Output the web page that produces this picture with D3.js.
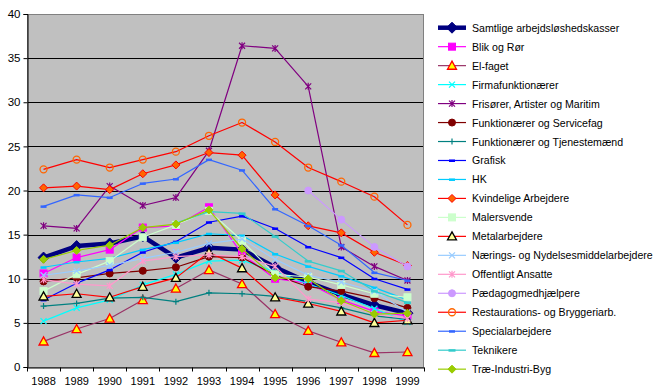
<!DOCTYPE html>
<html><head><meta charset="utf-8">
<script src="https://cdn.jsdelivr.net/npm/d3@7"></script>
<style>
html,body{margin:0;padding:0;background:#fff;}
svg{display:block;font-family:"Liberation Sans",Arial,sans-serif;}
</style></head>
<body><svg id="c" width="658" height="390"></svg>
<script>
const years = ["1988","1989","1990","1991","1992","1993","1994","1995","1996","1997","1998","1999"];
const yTicks = [0,5,10,15,20,25,30,35,40];
const seriesNames = ["Samtlige arbejdsløshedskasser","Blik og Rør","El-faget","Firmafunktionærer","Frisører, Artister og Maritim","Funktionærer og Servicefag","Funktionærer og Tjenestemænd","Grafisk","HK","Kvindelige Arbejdere","Malersvende","Metalarbejdere","Nærings- og Nydelsesmiddelarbejdere","Offentligt Ansatte","Pædagogmedhjælpere","Restaurations- og Bryggeriarb.","Specialarbejdere","Teknikere","Træ-Industri-Byg"];

const samtlige = [12.4,13.7,14.0,14.8,12.4,13.5,13.3,11.3,9.6,8.2,7.0,6.1];
const blikOgRor = [10.6,12.4,13.3,15.8,16.0,18.1,12.8,10.0,9.5,7.6,6.3,5.8];
const elFaget = [2.9,4.3,5.5,7.6,8.9,11.0,9.4,6.0,4.1,2.8,1.6,1.7];
const firmafunktionaerer = [5.2,6.7,7.6,9.3,10.5,12.0,12.1,10.8,9.4,8.1,6.6,5.1];
const frisorer = [16.0,15.7,20.5,18.3,19.2,24.5,36.4,36.1,31.8,13.6,11.4,9.8];
const funkService = [9.7,10.1,10.6,10.9,11.3,12.5,12.4,10.4,9.1,8.6,7.8,6.7];
const funkTjenestemaend = [6.9,7.2,7.8,7.9,7.4,8.4,8.3,8.0,7.4,6.7,5.8,5.4];
const grafisk = [7.6,9.5,11.0,13.0,14.2,16.4,17.1,15.7,13.6,12.4,10.0,8.8];
const hk = [11.3,11.9,12.3,13.3,14.1,15.1,14.9,12.8,11.4,10.3,9.0,7.6];
const kvindelige = [20.3,20.5,20.1,21.9,22.9,24.3,24.0,19.5,16.0,15.2,13.0,11.5];
const malersvende = [8.6,10.5,12.0,14.7,16.1,17.7,14.3,10.5,10.2,9.3,8.3,7.9];
const metal = [8.0,8.3,7.9,9.1,10.1,13.0,11.2,7.9,7.2,6.3,5.0,5.3];
const naerings = [10.4,10.9,11.5,12.3,13.0,14.0,14.5,12.2,10.4,9.6,8.6,6.2];
const offentligt = [9.9,9.4,9.2,12.0,12.5,12.7,12.5,11.4,7.7,7.3,6.0,5.5];
const paedagog = [null,null,null,null,null,null,null,null,20.0,16.7,13.6,11.4];
const restaurations = [22.4,23.5,22.6,23.5,24.4,26.2,27.7,25.5,22.6,21.0,19.3,16.1];
const special = [18.2,19.5,19.2,20.8,21.3,23.5,22.3,17.9,16.0,13.8,10.7,9.8];
const teknikere = [null,null,null,null,16.3,17.6,17.4,14.8,12.0,10.9,8.6,7.3];
const trae = [12.2,13.2,13.8,15.8,16.2,17.8,13.4,10.1,10.0,7.5,6.0,6.1];

const values = [samtlige,blikOgRor,elFaget,firmafunktionaerer,frisorer,funkService,funkTjenestemaend,grafisk,hk,kvindelige,malersvende,metal,naerings,offentligt,paedagog,restaurations,special,teknikere,trae];

const styles = [
 {c:"#000080",w:4.5,m:"diamond",f:"#000080",s:"#000080",r:5.5},
 {c:"#FF00FF",w:1.2,m:"square",f:"#FF00FF",s:"#FF00FF",r:3.5},
 {c:"#993366",w:1.2,m:"triangle",f:"#FFFF00",s:"#FF0000",r:4.5},
 {c:"#00FFFF",w:1.2,m:"x",f:"none",s:"#00FFFF",r:3},
 {c:"#800080",w:1.2,m:"star",f:"none",s:"#800080",r:3},
 {c:"#800000",w:1.2,m:"circle",f:"#800000",s:"#800000",r:3.5},
 {c:"#008080",w:1.2,m:"plus",f:"none",s:"#008080",r:3},
 {c:"#0000FF",w:1.2,m:"dash",f:"#0000FF",s:"#0000FF",r:3},
 {c:"#00CCFF",w:1.2,m:"dash",f:"#00CCFF",s:"#00CCFF",r:3},
 {c:"#FF0000",w:1.2,m:"diamond",f:"#FF6600",s:"#FF0000",r:4},
 {c:"#CCFFCC",w:1.2,m:"square",f:"#CCFFCC",s:"#CCFFCC",r:3.5},
 {c:"#FF0000",w:1.2,m:"triangle",f:"#FFFF99",s:"#000000",r:4.5},
 {c:"#99CCFF",w:1.2,m:"x",f:"none",s:"#99CCFF",r:3},
 {c:"#FF99CC",w:1.2,m:"star",f:"none",s:"#FF99CC",r:3},
 {c:"#CC99FF",w:1.2,m:"circle",f:"#CC99FF",s:"#CC99FF",r:3.5},
 {c:"#FF0000",w:1.2,m:"ocircle",f:"none",s:"#FF6600",r:3.5},
 {c:"#3366FF",w:1.2,m:"dash",f:"#3366FF",s:"#3366FF",r:3},
 {c:"#33CCCC",w:1.2,m:"dash",f:"#33CCCC",s:"#33CCCC",r:3.5},
 {c:"#99CC00",w:1.2,m:"diamond",f:"#99CC00",s:"#99CC00",r:4}
];

const svg = d3.select("#c");
const pLeft=27, pRight=424, pTop=14, pBottom=367;
const x = d3.scaleBand().domain(years).range([pLeft,pRight]).padding(0);
const y = d3.scaleLinear().domain([0,40]).range([pBottom,pTop]);
const cx = d => x(d)+x.bandwidth()/2;

svg.append("rect").attr("x",pLeft).attr("y",pTop).attr("width",pRight-pLeft).attr("height",pBottom-pTop)
  .attr("fill","#C0C0C0");
svg.append("g").selectAll("line").data(yTicks.filter(t=>t>0&&t<40)).join("line")
  .attr("x1",pLeft).attr("x2",pRight).attr("y1",d=>Math.round(y(d))+0.5).attr("y2",d=>Math.round(y(d))+0.5)
  .attr("stroke","#000").attr("stroke-width",1);
svg.append("rect").attr("x",pLeft+0.5).attr("y",pTop+0.5).attr("width",pRight-pLeft-1).attr("height",pBottom-pTop)
  .attr("fill","none").attr("stroke","#808080").attr("stroke-width",1);

const yAxis = d3.axisLeft(y).tickValues(yTicks).tickSize(4).tickPadding(3).tickFormat(d3.format("d"));
const gy = svg.append("g").attr("transform",`translate(${pLeft+0.5},0)`).call(yAxis);
gy.select(".domain").attr("stroke","#000");
gy.selectAll("text").attr("font-size","11.5px").attr("fill","#000").attr("font-family","Liberation Sans, Arial, sans-serif");
const xAxis = d3.axisBottom(x).tickSize(0).tickPadding(10);
const gx = svg.append("g").attr("transform",`translate(0,${pBottom+0.5})`).call(xAxis);
gx.select(".domain").attr("stroke","#000");
gx.selectAll("text").attr("font-size","11px").attr("fill","#000").attr("font-family","Liberation Sans, Arial, sans-serif");
gx.append("g").selectAll("line").data(d3.range(years.length+1)).join("line")
  .attr("x1",i=>Math.round(pLeft+i*x.bandwidth())+0.5).attr("x2",i=>Math.round(pLeft+i*x.bandwidth())+0.5)
  .attr("y1",0).attr("y2",4).attr("stroke","#000");

function marker(g, st, px, py){
  const r = st.r;
  switch(st.m){
    case "diamond": g.append("path").attr("d",`M${px},${py-r}L${px+r},${py}L${px},${py+r}L${px-r},${py}Z`).attr("fill",st.f).attr("stroke",st.s).attr("stroke-width",1); break;
    case "square": g.append("rect").attr("x",px-r).attr("y",py-r).attr("width",2*r).attr("height",2*r).attr("fill",st.f).attr("stroke",st.s); break;
    case "triangle": g.append("path").attr("d",`M${px},${py-r}L${px+r},${py+r*0.8}L${px-r},${py+r*0.8}Z`).attr("fill",st.f).attr("stroke",st.s).attr("stroke-width",1.3); break;
    case "x": g.append("path").attr("d",`M${px-r},${py-r}L${px+r},${py+r}M${px-r},${py+r}L${px+r},${py-r}`).attr("stroke",st.s).attr("stroke-width",1.2); break;
    case "star": g.append("path").attr("d",`M${px-r},${py-r}L${px+r},${py+r}M${px-r},${py+r}L${px+r},${py-r}M${px},${py-r-0.5}L${px},${py+r+0.5}`).attr("stroke",st.s).attr("stroke-width",1.2); break;
    case "plus": g.append("path").attr("d",`M${px-r},${py}L${px+r},${py}M${px},${py-r}L${px},${py+r}`).attr("stroke",st.s).attr("stroke-width",1.2); break;
    case "circle": g.append("circle").attr("cx",px).attr("cy",py).attr("r",r).attr("fill",st.f).attr("stroke",st.s); break;
    case "ocircle": g.append("circle").attr("cx",px).attr("cy",py).attr("r",r).attr("fill","none").attr("stroke",st.s).attr("stroke-width",1.3); break;
    case "dash": g.append("rect").attr("x",px-r).attr("y",py-1).attr("width",2*r).attr("height",2.5).attr("fill",st.f); break;
  }
}

const line = d3.line().defined(d=>d.v!=null).x(d=>cx(d.yr)).y(d=>y(d.v));
const plot = svg.append("g");
values.forEach((vals,i)=>{
  const st = styles[i];
  const pts = vals.map((v,j)=>({yr:years[j],v:v}));
  const g = plot.append("g");
  g.append("path").datum(pts).attr("d",line).attr("fill","none").attr("stroke",st.c).attr("stroke-width",st.w).attr("stroke-linejoin","round");
  pts.filter(p=>p.v!=null).forEach(p=>marker(g,st,cx(p.yr),y(p.v)));
});

const lg = svg.append("g");
const ly0 = 27.7, lstep = 18.97;
seriesNames.forEach((name,i)=>{
  const st = styles[i];
  const yy = ly0 + i*lstep;
  lg.append("line").attr("x1",438).attr("x2",466).attr("y1",yy).attr("y2",yy).attr("stroke",st.c).attr("stroke-width",st.w);
  marker(lg, st, 452, yy);
  lg.append("text").attr("x",472).attr("y",yy+4).attr("font-size","10.6px").attr("fill","#000").text(name);
});
</script></body></html>
